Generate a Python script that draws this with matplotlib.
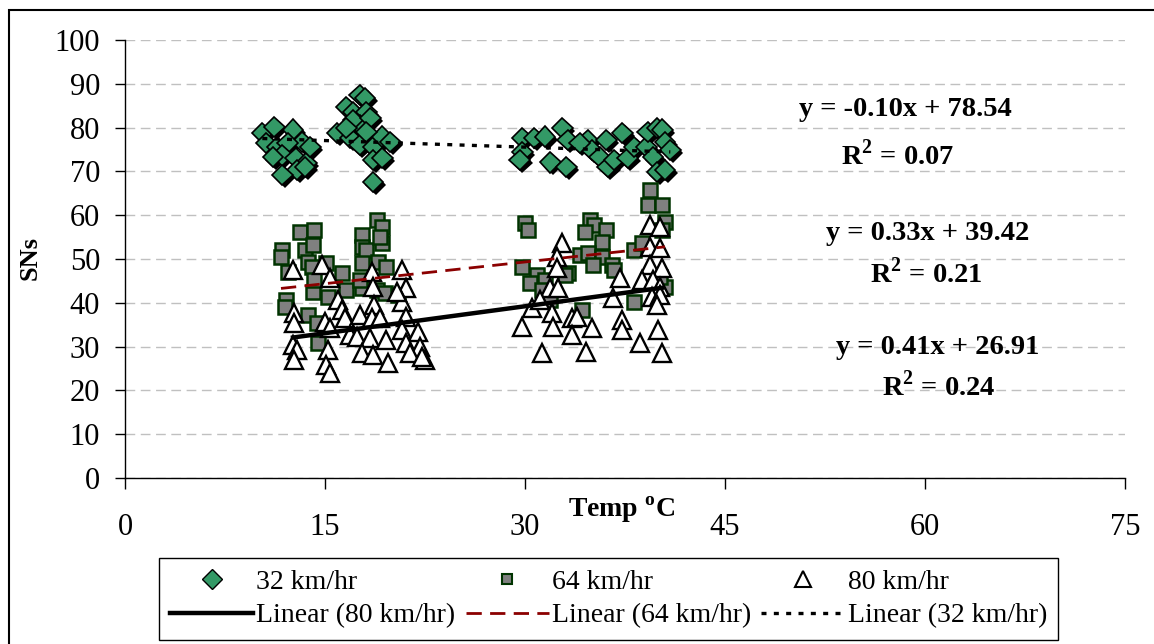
import matplotlib
matplotlib.use("Agg")
import matplotlib.pyplot as plt
import matplotlib.patheffects as pe
from matplotlib.lines import Line2D
from matplotlib.patches import Rectangle
import numpy as np

plt.rcParams["font.family"] = "Liberation Serif"
plt.rcParams["mathtext.fontset"] = "custom"
plt.rcParams["mathtext.rm"] = "Liberation Serif"
plt.rcParams["mathtext.bf"] = "Liberation Serif:bold"

# skid numbers (SNs) vs temperature
temp_32 = [10.3, 11.2, 12.6, 13.3, 10.6, 11.4, 12.2, 11.8, 12.8, 11.1, 13.6, 12.9, 11.8, 13.9, 13.5,
           17.6, 18.0, 16.6, 17.1, 18.1, 17.6, 17.1, 18.4, 15.9, 16.9, 17.6, 18.6, 19.3, 19.9, 18.6,
           19.3, 18.6, 16.6, 18.1,
           29.8, 30.7, 29.8, 29.6, 31.5, 32.8, 33.2, 31.9, 33.1, 34.7, 35.0, 36.1, 35.6, 36.2, 36.7,
           37.3, 37.7, 38.2, 39.1, 39.2, 39.9, 40.3, 40.5, 39.6, 39.9, 40.5, 40.9, 34.1]
sn_32 = [78.8, 80.1, 79.5, 76.7, 76.5, 75.6, 76.5, 73.7, 73.1, 73.3, 71.9, 70.3, 69.2, 75.6, 71.0,
         87.4, 86.8, 84.7, 83.6, 83.6, 80.6, 81.7, 82.2, 78.8, 77.6, 76.0, 75.6, 77.9, 76.7, 72.6,
         73.1, 67.6, 79.9, 79.0,
         77.6, 77.6, 74.4, 72.6, 77.9, 79.9, 77.2, 72.1, 71.0, 77.2, 74.9, 77.2, 73.3, 71.0, 72.6,
         78.8, 73.1, 75.6, 75.6, 79.0, 79.9, 79.5, 76.7, 73.3, 69.9, 70.3, 74.9, 76.5]

temp_64 = [13.1, 14.2, 11.8, 11.7, 13.5, 14.1, 13.7, 12.2, 14.0, 15.1, 16.3, 18.9, 19.3, 17.8,
           17.8, 18.1, 19.3, 19.1, 17.8, 19.0, 19.6, 17.8, 18.9, 19.5, 12.1, 12.0, 14.1, 15.2,
           13.7, 14.4, 14.5, 16.6, 17.6, 20.5, 14.2,
           30.0, 30.2, 34.9, 35.2, 34.5, 36.1, 35.8, 39.4, 39.2, 40.3, 40.5, 40.3, 38.2, 38.8,
           29.8, 30.9, 30.4, 31.5, 34.1, 34.7, 35.8, 35.1, 36.5, 33.2, 33.0, 36.7, 34.3, 38.2,
           40.5, 40.1, 31.3, 31.9]
sn_64 = [56.2, 56.6, 52.1, 50.5, 52.1, 53.2, 49.3, 47.0, 48.2, 49.1, 46.8, 58.9, 57.3, 55.5,
         52.7, 52.1, 53.7, 55.0, 49.1, 49.3, 48.2, 43.4, 42.9, 42.2, 40.6, 39.0, 42.5, 41.3,
         37.2, 35.4, 30.8, 42.9, 45.2, 41.8, 45.2,
         58.2, 56.6, 58.9, 57.8, 56.2, 56.6, 53.9, 65.8, 62.3, 62.3, 58.4, 56.6, 52.1, 53.7,
         48.2, 46.3, 44.5, 45.2, 50.9, 51.4, 50.5, 48.6, 48.6, 46.8, 46.3, 47.5, 38.4, 40.2,
         43.6, 45.9, 42.9, 40.6]

temp_80 = [12.6, 14.8, 15.4, 12.7, 12.7, 12.6, 12.9, 12.7, 16.0, 16.3, 16.5, 15.0, 15.4, 15.2,
           15.1, 15.4, 17.6, 16.9, 17.4, 18.5, 18.6, 18.7, 18.5, 18.4, 17.8, 18.6, 19.6, 19.7,
           19.1, 20.8, 21.1, 20.8, 21.1, 20.8, 22.0, 21.1, 22.1, 21.4, 22.5, 20.4, 22.3,
           32.8, 32.4, 32.4, 31.9, 32.5, 30.5, 29.8, 32.0, 32.1, 31.3, 33.5, 33.9, 33.5, 35.0,
           34.6, 37.1, 36.6, 37.3, 37.3, 38.6, 39.4, 40.1, 39.4, 40.1, 39.4, 40.3, 38.8, 39.6,
           40.1, 39.5, 40.1, 39.9, 40.0, 40.3, 31.1]
sn_80 = [47.5, 48.6, 45.7, 37.7, 35.4, 30.4, 29.2, 26.9, 40.6, 38.4, 36.5, 35.6, 34.2, 29.2,
         25.8, 24.0, 37.2, 32.6, 32.2, 47.0, 43.6, 39.5, 36.5, 32.0, 28.5, 28.1, 31.5, 26.3,
         36.5, 47.5, 43.4, 40.2, 36.8, 33.8, 33.3, 30.8, 29.9, 28.5, 26.9, 42.5, 27.6,
         53.7, 50.5, 47.9, 43.4, 43.4, 38.8, 34.5, 37.7, 34.5, 28.5, 36.5, 36.8, 32.6, 34.2,
         28.8, 45.7, 41.1, 36.1, 33.8, 30.8, 57.8, 57.3, 52.7, 52.5, 48.6, 47.9, 45.2, 45.2,
         43.6, 41.3, 41.8, 39.5, 33.8, 28.5, 40.6]

# Excel trendlines: slope, intercept, R^2
fit_32 = (-0.10, 78.54, 0.07)
fit_64 = (0.33, 39.42, 0.21)
fit_80 = (0.41, 26.91, 0.24)

x_ticks = [0, 15, 30, 45, 60, 75]
y_ticks = list(range(0, 101, 10))

W, H = 1154, 644
fig = plt.figure(figsize=(W / 100, H / 100), dpi=100)
ax = fig.add_axes([125 / W, 1 - 478 / H, 1000 / W, 438 / H])

# outer chart frame
fig.patches.append(Rectangle((9 / W, -0.05), 1.1, 1 - 10 / H + 0.05, transform=fig.transFigure,
                             fill=False, edgecolor="black", linewidth=1.5, clip_on=False))

shadow = [pe.SimplePatchShadow(offset=(2, -2), shadow_rgbFace="black", alpha=1.0), pe.Normal()]
ax.plot(temp_32, sn_32, ls="none", marker="D", ms=10.5, mfc="#339966", mec="black", mew=1.2,
        path_effects=shadow, zorder=3)
ax.plot(temp_64, sn_64, ls="none", marker="s", ms=9.5, mfc="#808080", mec="#003300", mew=1.8,
        zorder=4)
ax.plot(temp_80, sn_80, ls="none", marker="^", ms=13.5, mfc="white", mec="black", mew=1.7, zorder=5)

def trend(temps, fit):
    xs = np.array([min(temps), max(temps)])
    return xs, fit[0] * xs + fit[1]

x, y = trend(temp_80, fit_80)
ax.plot(x, y, color="black", lw=3.2, zorder=6)
x, y = trend(temp_64, fit_64)
ax.plot(x, y, color="#8B0000", lw=2, dashes=(5.5, 3), zorder=6)
x, y = trend(temp_32, fit_32)
ax.plot(x, y, color="black", lw=2.4, dashes=(1.5, 2.2), zorder=6)

ax.set_xlim(0, 75)
ax.set_ylim(0, 100)
ax.set_xticks(x_ticks)
ax.set_yticks(y_ticks)
ax.yaxis.grid(True, color="#c0c0c0", lw=1, dashes=(7, 4))
ax.set_axisbelow(True)
for s in ["top", "right"]:
    ax.spines[s].set_visible(False)
for s in ["left", "bottom"]:
    ax.spines[s].set_linewidth(1.0)
ax.tick_params(axis="x", direction="out", length=8, width=1, pad=17, labelsize=22)
ax.tick_params(axis="y", direction="out", length=7, width=1, pad=11, labelsize=22)

fig.text(30 / W, 1 - 258 / H, "SNs", rotation=90, ha="center", va="center",
         fontsize=19, fontweight="bold")
fig.text(622 / W, 1 - 510 / H, r"Temp $^{\mathbf{o}}$C", ha="center", va="center",
         fontsize=20, fontweight="bold")

def eq_text(fit):
    return "y = %.2fx + %.2f" % (fit[0], fit[1]) if fit[0] >= 0 else \
        "y = -%.2fx + %.2f" % (-fit[0], fit[1])

labels_pos = [(fit_32, 905, 110, 898, 155), (fit_64, 928, 233, 926, 273),
              (fit_80, 938, 347, 939, 386)]
for fit, ex, ey, rx, ry in labels_pos:
    fig.text(ex / W, 1 - ey / H, eq_text(fit), ha="center", va="center",
             fontsize=20.5, fontweight="bold")
    fig.text(rx / W, 1 - ry / H, r"R$^{\mathbf{2}}$ = %.2f" % fit[2], ha="center",
             va="center", fontsize=20.5, fontweight="bold")

h32 = Line2D([], [], ls="none", marker="D", ms=10, mfc="#339966", mec="black", mew=1)
h64 = Line2D([], [], ls="none", marker="s", ms=7, mfc="#808080", mec="#003300", mew=1.5)
h80 = Line2D([], [], ls="none", marker="^", ms=11, mfc="white", mec="black", mew=1.5)
l80 = Line2D([], [], color="black", lw=3.2)
l64 = Line2D([], [], color="#8B0000", lw=2, dashes=(5.5, 3))
l32 = Line2D([], [], color="black", lw=2.4, dashes=(1.5, 2.2))
leg = fig.legend([h32, l80, h64, l64, h80, l32],
                 ["32 km/hr", "Linear (80 km/hr)", "64 km/hr", "Linear (64 km/hr)",
                  "80 km/hr", "Linear (32 km/hr)"],
                 ncol=3, loc="center", mode="expand", borderaxespad=0,
                 bbox_to_anchor=(159 / W, 1 - 641 / H, 899 / W, 84 / H),
                 fontsize=20, handlelength=3.0, handletextpad=0.1, columnspacing=0.8,
                 borderpad=0.4, labelspacing=0.3, numpoints=1,
                 fancybox=False, edgecolor="black", framealpha=1)
leg.get_frame().set_linewidth(1.0)

fig.savefig("out.png", dpi=100)
